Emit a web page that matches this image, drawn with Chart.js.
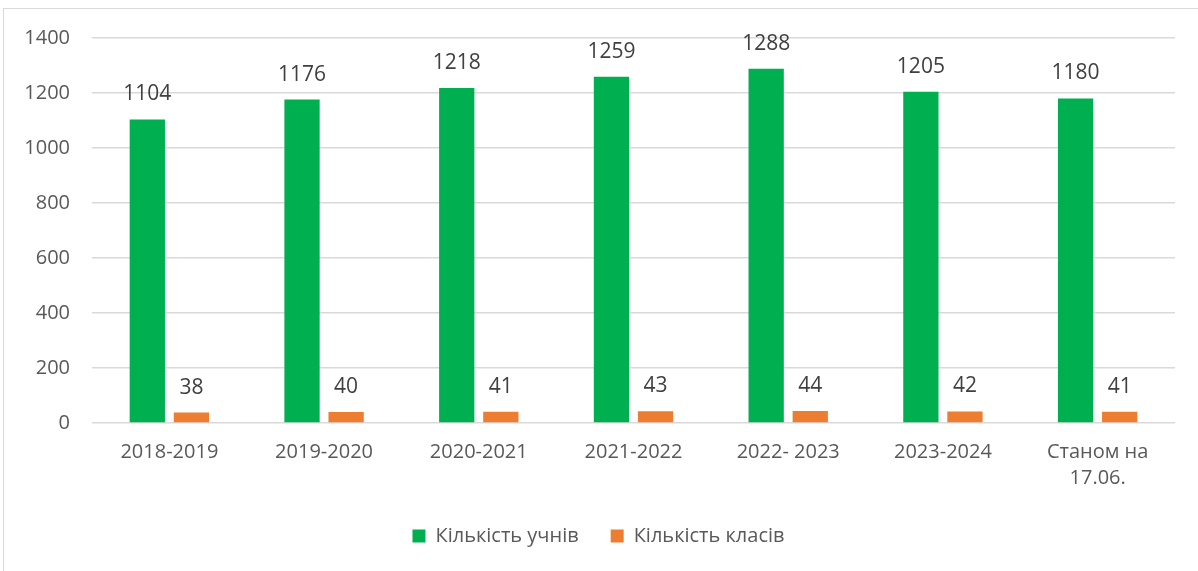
<!DOCTYPE html>
<html>
<head>
<meta charset="utf-8">
<script src="https://cdn.jsdelivr.net/npm/chart.js@4"></script>
<style>
  html, body { margin: 0; padding: 0; background: #fff; overflow: hidden; }
  #frame { position: absolute; left: 3px; top: 8px; width: 1210px; height: 600px; border: 1px solid #d9d9d9; box-sizing: border-box; }
  #wrap { position: absolute; left: 0; top: 0; width: 1195px; height: 562px; }
</style>
</head>
<body>
<div id="frame"><div id="wrap"><canvas id="chart"></canvas></div></div>
<script>
const years = ["2018-2019", "2019-2020", "2020-2021", "2021-2022", "2022- 2023", "2023-2024", ["Станом на", "17.06."]];
const pupils = [1104, 1176, 1218, 1259, 1288, 1205, 1180];
const classes = [38, 40, 41, 43, 44, 42, 41];
const yTicks = [0, 200, 400, 600, 800, 1000, 1200, 1400];

const fontFamily = "'Open Sans', sans-serif";
const textColor = "#595959";

// draws the value above each bar
const valueLabels = {
    id: 'valueLabels',
    afterDatasetsDraw(chart) {
        const ctx = chart.ctx;
        ctx.save();
        ctx.font = "21px " + fontFamily;
        ctx.fillStyle = "#404040";
        ctx.textAlign = "center";
        ctx.textBaseline = "middle";
        chart.data.datasets.forEach((ds, i) => {
            chart.getDatasetMeta(i).data.forEach((bar, j) => {
                ctx.fillText(ds.data[j], bar.x, bar.y - 25);
            });
        });
        ctx.restore();
    }
};

new Chart("chart", {
    type: "bar",
    data: {
        labels: years,
        datasets: [{
            label: "Кількість учнів",
            data: pupils,
            backgroundColor: "#00B050",
            categoryPercentage: 0.57,
            barPercentage: 0.8
        }, {
            label: "Кількість класів",
            data: classes,
            backgroundColor: "#ED7D31",
            categoryPercentage: 0.57,
            barPercentage: 0.8
        }]
    },
    options: {
        responsive: true,
        maintainAspectRatio: false,
        animation: false,
        layout: { padding: { left: 18, right: 24, top: 29, bottom: 15 } },
        scales: {
            x: {
                afterFit: scale => { scale.height -= 5; },
                grid: { display: false },
                border: { display: false },
                ticks: { color: textColor, font: { family: fontFamily, size: 20, lineHeight: 1.3 }, padding: 8, maxRotation: 0 }
            },
            y: {
                min: 0,
                max: 1400,
                afterBuildTicks: scale => { scale.ticks = yTicks.map(v => ({ value: v })); },
                afterFit: scale => { scale.width = 70; scale.paddingTop = 0; scale.paddingBottom = 0; },
                grid: { color: "#d9d9d9", lineWidth: 1.5, drawTicks: false },
                border: { display: false },
                ticks: { color: textColor, font: { family: fontFamily, size: 20 }, padding: 22, callback: v => String(v) }
            }
        },
        plugins: {
            legend: {
                position: "bottom",
                labels: { color: textColor, font: { family: fontFamily, size: 20 }, boxWidth: 13, boxHeight: 13, padding: 32 }
            },
            tooltip: { enabled: false }
        }
    },
    plugins: [valueLabels]
});
</script>
</body>
</html>
